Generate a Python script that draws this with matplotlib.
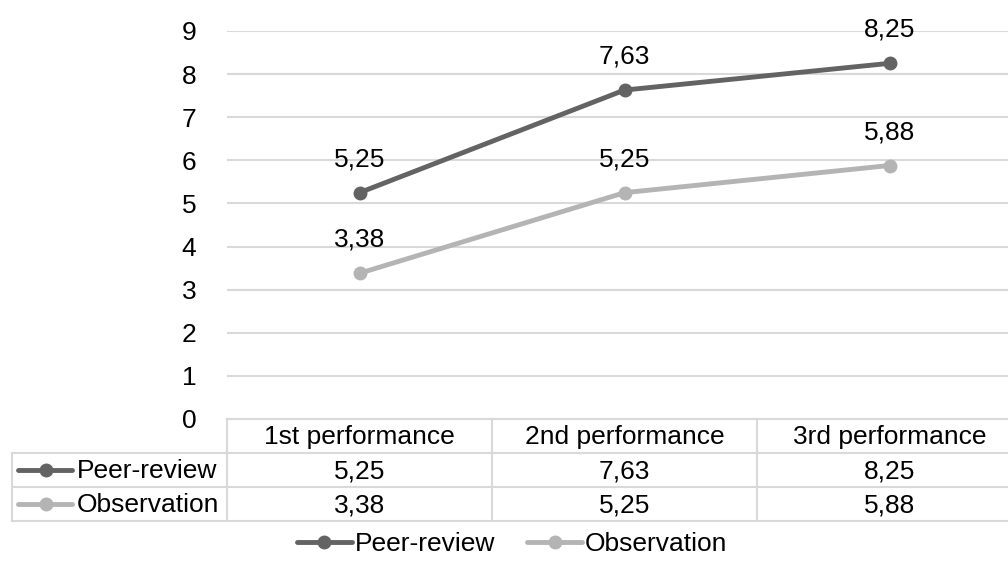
import matplotlib
matplotlib.use("Agg")
import matplotlib.pyplot as plt

plt.rcParams['font.family'] = ['Liberation Sans', 'DejaVu Sans']
FS = 19
plt.rcParams['font.size'] = FS

categories = ["1st performance", "2nd performance", "3rd performance"]
series_names = ["Peer-review", "Observation"]
peer_review = [5.25, 7.63, 8.25]
observation = [3.38, 5.25, 5.88]
y_ticks = [0, 1, 2, 3, 4, 5, 6, 7, 8, 9]

colors = ["#636363", "#b4b4b4"]
grid_color = "#d9d9d9"

W, H = 1008, 580
fig = plt.figure(figsize=(W / 100, H / 100), dpi=100)

# plot area in pixel units (left, top, right, bottom)
px_left, px_top, px_right, px_bottom = 227, 31, 1022, 419
ax = fig.add_axes([px_left / W, 1 - px_bottom / H,
                   (px_right - px_left) / W, (px_bottom - px_top) / H])
ax.set_xlim(-0.5, len(categories) - 0.5)
ax.set_ylim(0, 9)
ax.set_yticks(y_ticks)
ax.set_yticklabels([str(t) for t in y_ticks])
ax.set_xticks([])
ax.tick_params(axis='y', length=0, pad=22, labelsize=FS)
for s in ax.spines.values():
    s.set_visible(False)
ax.grid(axis='y', color=grid_color, linewidth=1.5)
ax.set_axisbelow(True)

x = list(range(len(categories)))
handles = []
for vals, name, c in zip([peer_review, observation], series_names, colors):
    h, = ax.plot(x, vals, color=c, linewidth=3.5, marker='o', markersize=9,
                 solid_capstyle='round', label=name, clip_on=False)
    handles.append(h)
    for xi, v in zip(x, vals):
        ax.annotate(f"{v:.2f}".replace('.', ','), (xi, v), xytext=(0, 24),
                    textcoords='offset points', ha='center', va='center',
                    fontsize=FS, color='black')

# data table below the plot, drawn on a full-figure overlay in pixel units
ov = fig.add_axes([0, 0, 1, 1])
ov.set_xlim(0, W)
ov.set_ylim(H, 0)
ov.axis('off')

fig.canvas.draw()
def to_px_x(xd):
    disp = ax.transData.transform((xd, 0))
    return ov.transData.inverted().transform(disp)[0]

edges = [to_px_x(i - 0.5) for i in range(len(categories) + 1)]
centers = [to_px_x(i) for i in range(len(categories))]
row_h = 34
table_left = 12
rows_y = [px_bottom + k * row_h for k in range(4)]
lw = 1.5

# horizontal lines
ov.plot([edges[0], edges[-1]], [rows_y[0]] * 2, color=grid_color, lw=lw)
for yy in rows_y[1:]:
    ov.plot([table_left, edges[-1]], [yy] * 2, color=grid_color, lw=lw)
# vertical lines
ov.plot([table_left] * 2, [rows_y[1], rows_y[3]], color=grid_color, lw=lw)
for ex in edges:
    ov.plot([ex] * 2, [rows_y[0], rows_y[3]], color=grid_color, lw=lw)

for cx, cat in zip(centers, categories):
    ov.text(cx, (rows_y[0] + rows_y[1]) / 2 + 1, cat, ha='center', va='center', fontsize=FS)

for r, (vals, name, c) in enumerate(zip([peer_review, observation], series_names, colors)):
    yc = (rows_y[r + 1] + rows_y[r + 2]) / 2
    ov.plot([18, 72], [yc, yc], color=c, lw=3.5, solid_capstyle='round')
    ov.plot([46], [yc], marker='o', color=c, markersize=9)
    ov.text(77, yc + 1, name, ha='left', va='center', fontsize=FS)
    for cx, v in zip(centers, vals):
        ov.text(cx, yc + 1, f"{v:.2f}".replace('.', ','), ha='center', va='center', fontsize=FS)

fig.legend(handles=handles, loc='center', bbox_to_anchor=(512 / W, 1 - 544 / H),
           ncol=2, frameon=False, fontsize=FS, handlelength=2.1, handletextpad=0.1,
           columnspacing=1.2)

fig.savefig("out.png", dpi=100)
